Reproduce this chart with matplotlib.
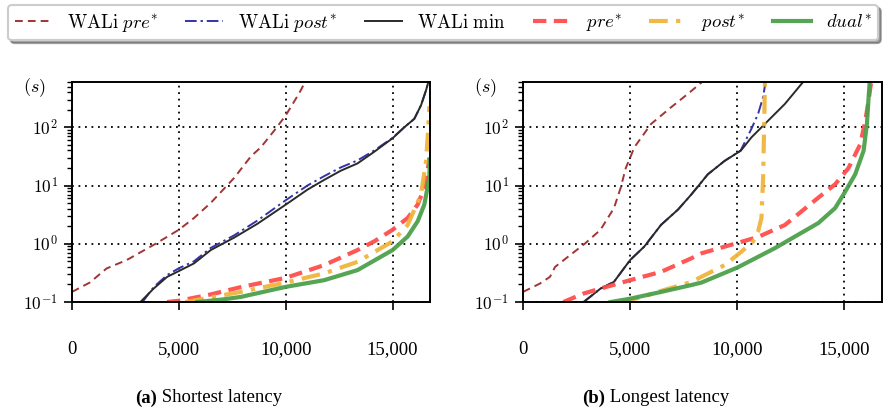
import matplotlib
matplotlib.use("Agg")
import matplotlib.pyplot as plt
from matplotlib.ticker import FixedLocator, LogLocator, NullFormatter

plt.rcParams['mathtext.fontset'] = 'cm'
plt.rcParams['font.family'] = ['Liberation Serif', 'DejaVu Serif']

labels = [r"$\mathrm{WALi}\ pre^{*}$", r"$\mathrm{WALi}\ post^{*}$", r"$\mathrm{WALi\ min}$",
          r"$pre^{*}$", r"$post^{*}$", r"$dual^{*}$"]
captions = ["(a)", "Shortest latency", "(b)", "Longest latency"]
xticks = [0, 5000, 10000, 15000]
xticklabels = ["0", "5,000", "10,000", "15,000"]
yticks = [0.1, 1, 10, 100]
yticklabels = [r"$10^{-1}$", r"$10^{0}$", r"$10^{1}$", r"$10^{2}$"]

# ---- (a) Shortest latency ----
a_wpre_x = [0, 833, 1619, 2562, 3820, 5000, 5707, 6493, 7593, 8379, 8828, 9453, 10000, 10470, 10703, 10950]
a_wpre_y = [0.149, 0.216, 0.377, 0.526, 0.957, 1.74, 2.77, 5.04, 13.6, 32, 45, 87, 160, 308, 431, 650]
a_wpost_x = [3300, 3820, 4449, 5000, 5707, 6493, 7593, 8672, 10000, 11016, 11797, 12578, 13359, 14141, 15000, 15547, 16016, 16328, 16563, 16700]
a_wpost_y = [0.1, 0.18, 0.29, 0.38, 0.5, 0.85, 1.4, 2.5, 5.6, 10, 14.5, 20.5, 27, 40, 66, 100, 140, 238, 431, 650]
a_wmin_x = [3200, 3820, 4449, 5000, 5707, 6493, 7593, 8672, 10000, 11016, 11797, 12578, 13359, 14141, 15000, 15547, 16016, 16328, 16563, 16700]
a_wmin_y = [0.1, 0.17, 0.27, 0.34, 0.46, 0.78, 1.28, 2.2, 4.7, 8.5, 12.5, 18, 24, 38, 65, 100, 140, 238, 431, 650]
a_pre_x = [4450, 5000, 6493, 7890, 10000, 11797, 13359, 14141, 15000, 15703, 16172, 16484, 16672, 16720]
a_pre_y = [0.1, 0.105, 0.135, 0.18, 0.26, 0.43, 0.78, 1.1, 1.74, 2.77, 4.7, 9.1, 22, 30]
a_post_x = [5300, 6493, 7890, 10000, 11797, 13359, 15000, 15703, 16328, 16563, 16672, 16720]
a_post_y = [0.1, 0.12, 0.149, 0.216, 0.31, 0.49, 1.1, 2.1, 7, 26, 100, 230]
a_dual_x = [5860, 7000, 7890, 10000, 11797, 13359, 15000, 15703, 16172, 16484, 16719, 16740]
a_dual_y = [0.1, 0.11, 0.122, 0.182, 0.237, 0.353, 0.78, 1.33, 2.43, 4.7, 13.6, 28]

# ---- (b) Longest latency ----
b_wpre_x = [0, 786, 1258, 1494, 2201, 2908, 3616, 4244, 4559, 4795, 5000, 5188, 5974, 6917, 7703, 8400]
b_wpre_y = [0.149, 0.207, 0.27, 0.40, 0.64, 1.02, 1.74, 4.1, 9.2, 20, 30, 45, 114, 222, 378, 620]
b_wpost_x = [2830, 3616, 4244, 5000, 5659, 6445, 7231, 7850, 8625, 9406, 10156, 10656, 10969, 11203, 11320]
b_wpost_y = [0.1, 0.17, 0.222, 0.526, 0.895, 2.12, 3.86, 7.0, 15.6, 26.5, 40, 94, 170, 330, 620]
b_wmin_x = [2830, 3616, 4244, 5000, 5659, 6445, 7231, 7850, 8625, 9406, 10156, 10656, 11281, 12219, 13100]
b_wmin_y = [0.1, 0.17, 0.222, 0.526, 0.895, 2.12, 3.86, 7.0, 15.6, 26.5, 39.5, 67, 114, 252, 620]
b_pre_x = [1886, 2830, 3616, 5000, 6445, 7844, 8332, 10000, 10969, 12219, 13781, 14563, 15188, 15734, 15969, 16125, 16250]
b_pre_y = [0.1, 0.14, 0.17, 0.237, 0.33, 0.56, 0.687, 1.03, 1.31, 2.1, 6.2, 10.5, 20, 51, 128, 290, 620]
b_post_x = [4560, 5500, 6445, 7844, 9406, 10188, 10734, 10969, 11125, 11203, 11250, 11290]
b_post_y = [0.1, 0.12, 0.155, 0.22, 0.43, 0.73, 1.1, 1.62, 2.77, 13.6, 100, 620]
b_dual_x = [4087, 5000, 6445, 7844, 8332, 10000, 11750, 13781, 14563, 15000, 15500, 15891, 16047, 16125, 16180]
b_dual_y = [0.1, 0.114, 0.149, 0.195, 0.216, 0.39, 0.84, 2.27, 4.1, 7.5, 15.6, 39.5, 114, 330, 620]

styles = [
    dict(color="#a33434", lw=1.4, ls=(0, (4, 2.6))),
    dict(color="#3434a8", lw=1.4, ls=(0, (6, 2, 1.2, 2))),
    dict(color="#2a2a2a", lw=1.4, ls="-"),
    dict(color="#ff4d4d", lw=3.0, ls=(0, (3.2, 1.8)), alpha=0.95),
    dict(color="#f0b43c", lw=3.0, ls=(0, (4.5, 2, 1, 2)), alpha=0.95),
    dict(color="#4ca04c", lw=3.0, ls="-", alpha=0.95),
]

fig = plt.figure(figsize=(8.91, 4.09), dpi=100)
ax1 = fig.add_axes([72/891, 1 - 302/409, 358/891, 220/409])
ax2 = fig.add_axes([523/891, 1 - 302/409, 359/891, 220/409])

series_a = [(a_wpre_x, a_wpre_y), (a_wpost_x, a_wpost_y), (a_wmin_x, a_wmin_y),
            (a_pre_x, a_pre_y), (a_post_x, a_post_y), (a_dual_x, a_dual_y)]
series_b = [(b_wpre_x, b_wpre_y), (b_wpost_x, b_wpost_y), (b_wmin_x, b_wmin_y),
            (b_pre_x, b_pre_y), (b_post_x, b_post_y), (b_dual_x, b_dual_y)]

handles = []
for ax, series in ((ax1, series_a), (ax2, series_b)):
    hs = []
    for (xs, ys), st, lab in zip(series, styles, labels):
        h, = ax.plot(xs, ys, label=lab, **st)
        hs.append(h)
    handles = hs
    ax.set_yscale("log")
    ax.set_xlim(0, 16750)
    ax.set_ylim(0.1, 600)
    ax.set_xticks(xticks)
    ax.set_xticklabels(xticklabels, fontsize=13.5)
    ax.yaxis.set_major_locator(FixedLocator(yticks))
    ax.set_yticklabels(yticklabels, fontsize=12.5)
    ax.yaxis.set_minor_locator(LogLocator(base=10, subs=range(2, 10), numticks=20))
    ax.yaxis.set_minor_formatter(NullFormatter())
    ax.tick_params(axis="x", which="major", length=6, width=1.2, pad=22, direction="out")
    ax.tick_params(axis="y", which="major", length=6, width=1.2, pad=4, direction="out")
    ax.tick_params(axis="y", which="minor", length=3.5, width=1.0, direction="out")
    for sp in ax.spines.values():
        sp.set_linewidth(1.4)
        sp.set_color("black")
    ax.grid(True, which="major", color="black", linestyle=(0, (1, 2.6)), linewidth=1.3)
    ax.set_axisbelow(True)
    ax.text(-0.105, 0.975, r"$(s)$", transform=ax.transAxes, fontsize=13,
            ha="center", va="center")

leg = fig.legend(handles=handles, labels=labels, loc="upper left",
                 bbox_to_anchor=(8/891, 1 - 5/409, 870/891, 0.0), mode="expand",
                 ncol=6, fontsize=13.5, frameon=True, fancybox=True, shadow=True,
                 handlelength=2.0, borderaxespad=0, borderpad=0.35, columnspacing=0.8,
                 handletextpad=0.8)
leg.get_frame().set_edgecolor("#cccccc")
leg.get_frame().set_linewidth(1.5)

y_cap = 1 - 398/409
t1 = fig.text(135/891, y_cap, captions[0], fontsize=13.5, weight="bold", ha="left", va="center")
ax1.annotate(" " + captions[1], xy=(1, 0.5), xycoords=t1, fontsize=13.5, ha="left", va="center",
             annotation_clip=False)
t2 = fig.text(582/891, y_cap, captions[2], fontsize=13.5, weight="bold", ha="left", va="center")
ax2.annotate(" " + captions[3], xy=(1, 0.5), xycoords=t2, fontsize=13.5, ha="left", va="center",
             annotation_clip=False)

fig.savefig("out.png", dpi=100)
